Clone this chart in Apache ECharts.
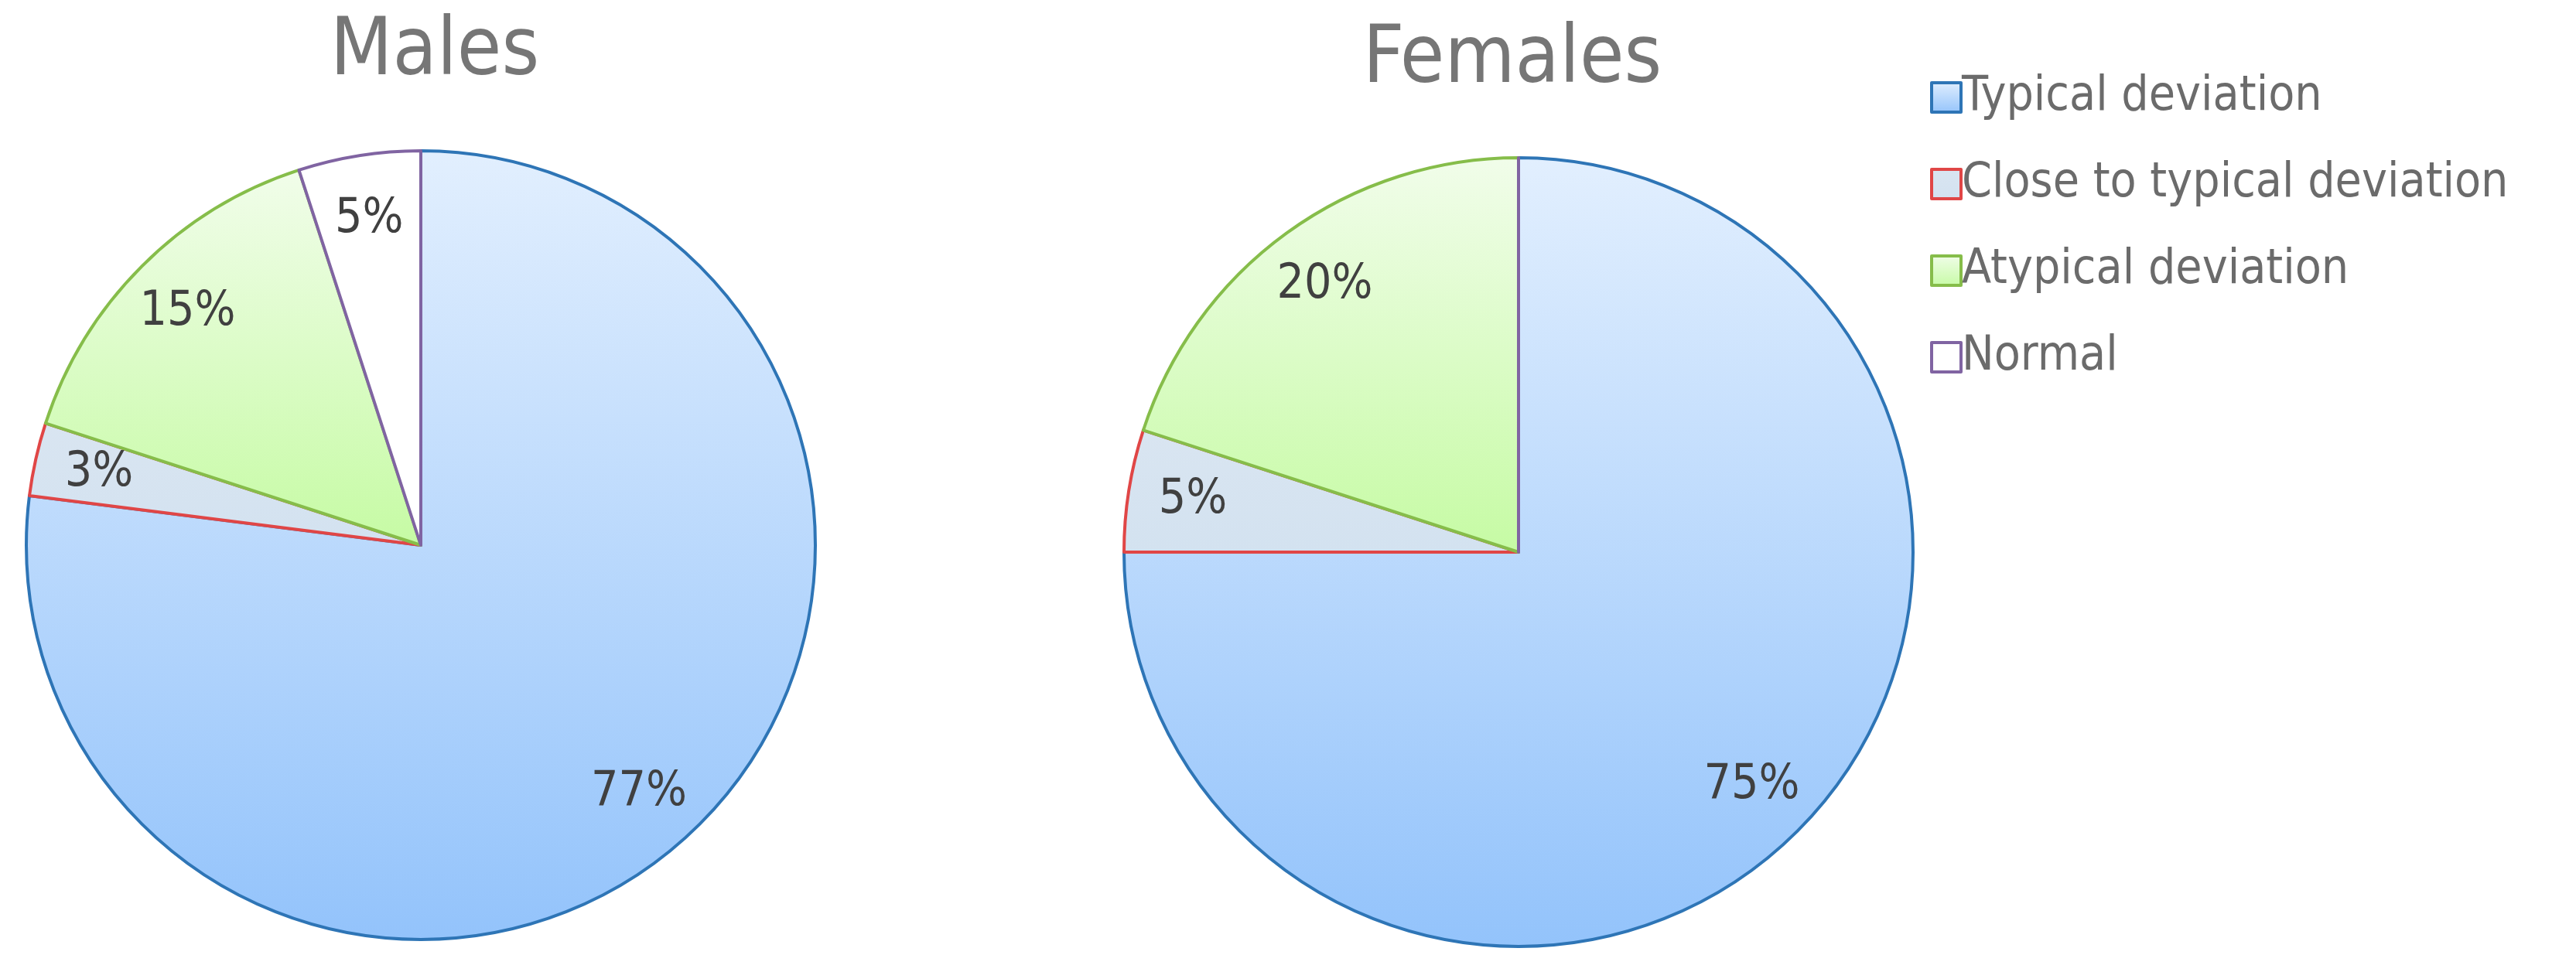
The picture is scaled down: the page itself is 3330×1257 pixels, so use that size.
<!DOCTYPE html>
<html>
<head>
<meta charset="utf-8">
<script src="https://cdn.jsdelivr.net/npm/echarts@6/dist/echarts.min.js"></script>
<style>html,body{margin:0;padding:0;background:#fff}#main{width:3330px;height:1257px}</style>
</head>
<body>
<div id="main"></div>
<script>
const categories = ['Typical deviation', 'Close to typical deviation', 'Atypical deviation', 'Normal'];
const malesValues = [77, 3, 15, 5];
const femalesValues = [75, 5, 20, 0];
const titles = ['Males', 'Females'];

// slice look: fill gradient + border colour
const styles = [
  { top: '#e2effe', bottom: '#93c3fb', border: '#2e75b6' },
  { top: '#d9e5f1', bottom: '#d3e2f0', border: '#e04646' },
  { top: '#f1fdea', bottom: '#c6fba4', border: '#86bd4a' },
  { top: '#ffffff', bottom: '#ffffff', border: '#8064a2' }
];

function grad (s) {
  return new echarts.graphic.LinearGradient(0, 0, 0, 1, [
    { offset: 0, color: s.top },
    { offset: 1, color: s.bottom }
  ]);
}

function pieData (values) {
  return values.map((v, i) => ({
    name: categories[i],
    value: v,
    itemStyle: { color: grad(styles[i]), borderColor: styles[i].border, borderWidth: 4 }
  }));
}

const centers = [['544', '705'], ['1963', '714']];
const R = 510;

const series = [];
[malesValues, femalesValues].forEach((vals, k) => {
  series.push({
    type: 'pie',
    center: [Number(centers[k][0]), Number(centers[k][1])],
    radius: [0, R],
    startAngle: 90,
    clockwise: true,
    label: { show: false },
    labelLine: { show: false },
    emphasis: { disabled: true },
    data: pieData(vals)
  });
  // label layer: bigger transparent pie so labels sit further out
  series.push({
    type: 'pie',
    center: [Number(centers[k][0]), Number(centers[k][1])],
    radius: [0, R * 1.66],
    startAngle: 90,
    silent: true,
    itemStyle: { color: 'rgba(0,0,0,0)', borderWidth: 0 },
    label: {
      show: true,
      position: 'inside',
      color: '#404040',
      fontSize: 62,
      fontFamily: 'DejaVu Sans Condensed',
      formatter: p => p.value > 0 ? p.value + '%' : ''
    },
    labelLine: { show: false },
    emphasis: { disabled: true },
    data: vals.map((v, i) => ({ name: categories[i] + ' ', value: v }))
  });
});

const chart = echarts.init(document.getElementById('main'));
chart.setOption({
  animation: false,
  title: [
    { text: titles[0], left: 557, top: 12, textAlign: 'center',
      textStyle: { fontSize: 104, fontWeight: 'normal', color: '#767676', fontFamily: 'DejaVu Sans Condensed' } },
    { text: titles[1], left: 1950, top: 22, textAlign: 'center',
      textStyle: { fontSize: 104, fontWeight: 'normal', color: '#767676', fontFamily: 'DejaVu Sans Condensed' } }
  ],
  legend: {
    orient: 'vertical',
    left: 2490,
    top: 90,
    itemWidth: 38,
    itemHeight: 38,
    itemGap: 50,
    icon: 'rect',
    textStyle: { fontSize: 62, color: '#6b6b6b', fontFamily: 'DejaVu Sans Condensed', padding: [0, 0, 0, -4] },
    data: categories.map((c, i) => ({
      name: c,
      itemStyle: { color: grad(styles[i]), borderColor: styles[i].border, borderWidth: 4 }
    }))
  },
  series: series
});
</script>
</body>
</html>
